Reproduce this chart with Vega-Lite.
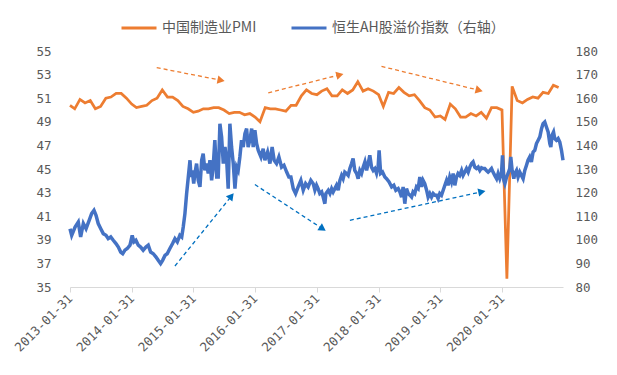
{
  "$schema": "https://vega.github.io/schema/vega-lite/v6.json",
  "width": 493,
  "height": 236,
  "autosize": {"type": "none"},
  "padding": {"left": 70, "top": 51, "right": 54, "bottom": 88},
  "background": "white",
  "config": {
    "view": {"stroke": null},
    "axis": {"labelColor": "#595959", "labelFont": "DejaVu Sans Mono", "labelFontSize": 12.5, "grid": false, "title": null, "labelOverlap": false}
  },
  "datasets": {
    "pmi": [
      {"d":"2013-01-31","v":50.4},{"d":"2013-02-28","v":50.1},{"d":"2013-03-31","v":50.9},{"d":"2013-04-30","v":50.6},{"d":"2013-05-31","v":50.8},{"d":"2013-06-30","v":50.1},{"d":"2013-07-31","v":50.3},{"d":"2013-08-31","v":51.0},{"d":"2013-09-30","v":51.1},{"d":"2013-10-31","v":51.4},{"d":"2013-11-30","v":51.4},{"d":"2013-12-31","v":51.0},
      {"d":"2014-01-31","v":50.5},{"d":"2014-02-28","v":50.2},{"d":"2014-03-31","v":50.3},{"d":"2014-04-30","v":50.4},{"d":"2014-05-31","v":50.8},{"d":"2014-06-30","v":51.0},{"d":"2014-07-31","v":51.7},{"d":"2014-08-31","v":51.1},{"d":"2014-09-30","v":51.1},{"d":"2014-10-31","v":50.8},{"d":"2014-11-30","v":50.3},{"d":"2014-12-31","v":50.1},
      {"d":"2015-01-31","v":49.8},{"d":"2015-02-28","v":49.9},{"d":"2015-03-31","v":50.1},{"d":"2015-04-30","v":50.1},{"d":"2015-05-31","v":50.2},{"d":"2015-06-30","v":50.2},{"d":"2015-07-31","v":50.0},{"d":"2015-08-31","v":49.7},{"d":"2015-09-30","v":49.8},{"d":"2015-10-31","v":49.8},{"d":"2015-11-30","v":49.6},{"d":"2015-12-31","v":49.7},
      {"d":"2016-01-31","v":49.4},{"d":"2016-02-29","v":49.0},{"d":"2016-03-31","v":50.2},{"d":"2016-04-30","v":50.1},{"d":"2016-05-31","v":50.1},{"d":"2016-06-30","v":50.0},{"d":"2016-07-31","v":49.9},{"d":"2016-08-31","v":50.4},{"d":"2016-09-30","v":50.4},{"d":"2016-10-31","v":51.2},{"d":"2016-11-30","v":51.7},{"d":"2016-12-31","v":51.4},
      {"d":"2017-01-31","v":51.3},{"d":"2017-02-28","v":51.6},{"d":"2017-03-31","v":51.8},{"d":"2017-04-30","v":51.2},{"d":"2017-05-31","v":51.2},{"d":"2017-06-30","v":51.7},{"d":"2017-07-31","v":51.4},{"d":"2017-08-31","v":51.7},{"d":"2017-09-30","v":52.4},{"d":"2017-10-31","v":51.6},{"d":"2017-11-30","v":51.8},{"d":"2017-12-31","v":51.6},
      {"d":"2018-01-31","v":51.3},{"d":"2018-02-28","v":50.3},{"d":"2018-03-31","v":51.5},{"d":"2018-04-30","v":51.4},{"d":"2018-05-31","v":51.9},{"d":"2018-06-30","v":51.5},{"d":"2018-07-31","v":51.2},{"d":"2018-08-31","v":51.3},{"d":"2018-09-30","v":50.8},{"d":"2018-10-31","v":50.2},{"d":"2018-11-30","v":50.0},{"d":"2018-12-31","v":49.4},
      {"d":"2019-01-31","v":49.5},{"d":"2019-02-28","v":49.2},{"d":"2019-03-31","v":50.5},{"d":"2019-04-30","v":50.1},{"d":"2019-05-31","v":49.4},{"d":"2019-06-30","v":49.4},{"d":"2019-07-31","v":49.7},{"d":"2019-08-31","v":49.5},{"d":"2019-09-30","v":49.8},{"d":"2019-10-31","v":49.3},{"d":"2019-11-30","v":50.2},{"d":"2019-12-31","v":50.2},
      {"d":"2020-01-31","v":50.0},{"d":"2020-02-29","v":35.7},{"d":"2020-03-31","v":52.0},{"d":"2020-04-30","v":50.8},{"d":"2020-05-31","v":50.6},{"d":"2020-06-30","v":50.9},{"d":"2020-07-31","v":51.1},{"d":"2020-08-31","v":51.0},{"d":"2020-09-30","v":51.5},{"d":"2020-10-31","v":51.4},{"d":"2020-11-30","v":52.1},{"d":"2020-12-31","v":51.9}
    ],
    "ah": [
      {"d":"2013-01-31","v":104.7},{"d":"2013-02-10","v":101.9},{"d":"2013-03-02","v":105.4},{"d":"2013-03-21","v":107.5},{"d":"2013-04-04","v":101.2},{"d":"2013-04-20","v":106.9},{"d":"2013-05-06","v":104.7},{"d":"2013-05-25","v":108.3},{"d":"2013-06-08","v":111.1},{"d":"2013-06-22","v":112.5},{"d":"2013-07-04","v":110.4},{"d":"2013-07-17","v":106.9},{"d":"2013-08-01","v":104.7},{"d":"2013-08-16","v":102.6},{"d":"2013-09-01","v":101.9},{"d":"2013-09-14","v":100.5},{"d":"2013-09-29","v":101.2},{"d":"2013-10-14","v":99.8},{"d":"2013-10-30","v":98.4},{"d":"2013-11-13","v":96.9},{"d":"2013-11-27","v":94.8},{"d":"2013-12-09","v":94.1},{"d":"2013-12-22","v":95.6},
      {"d":"2014-01-05","v":96.3},{"d":"2014-01-21","v":97.7},{"d":"2014-02-03","v":101.9},{"d":"2014-02-13","v":99.1},{"d":"2014-02-25","v":99.8},{"d":"2014-03-11","v":97.7},{"d":"2014-03-25","v":96.9},{"d":"2014-04-09","v":95.6},{"d":"2014-04-25","v":96.9},{"d":"2014-05-09","v":97.7},{"d":"2014-05-23","v":94.8},{"d":"2014-06-08","v":94.1},{"d":"2014-06-24","v":92.7},{"d":"2014-07-07","v":91.3},{"d":"2014-07-21","v":89.9},{"d":"2014-08-02","v":91.3},{"d":"2014-08-16","v":93.4},{"d":"2014-08-29","v":94.1},{"d":"2014-09-14","v":96.3},{"d":"2014-09-30","v":98.4},{"d":"2014-10-14","v":100.5},{"d":"2014-10-28","v":99.1},{"d":"2014-11-12","v":101.9},{"d":"2014-11-23","v":101.2},{"d":"2014-12-02","v":105.4},{"d":"2014-12-12","v":111.1},{"d":"2014-12-22","v":119.6},
      {"d":"2015-01-01","v":126.6},{"d":"2015-01-11","v":133.7},{"d":"2015-01-17","v":126.6},{"d":"2015-01-24","v":129.4},{"d":"2015-02-02","v":123.8},{"d":"2015-02-09","v":128.1},{"d":"2015-02-19","v":132.3},{"d":"2015-03-01","v":125.2},{"d":"2015-03-11","v":122.4},{"d":"2015-03-21","v":133.7},{"d":"2015-03-30","v":136.5},{"d":"2015-04-09","v":129.4},{"d":"2015-04-19","v":132.3},{"d":"2015-04-29","v":128.1},{"d":"2015-05-09","v":133.7},{"d":"2015-05-19","v":125.2},{"d":"2015-05-28","v":130.8},{"d":"2015-06-07","v":142.2},{"d":"2015-06-18","v":126.6},{"d":"2015-06-27","v":126.6},{"d":"2015-07-07","v":149.2},{"d":"2015-07-17","v":143.6},{"d":"2015-07-27","v":132.3},{"d":"2015-08-06","v":139.3},{"d":"2015-08-16","v":133.7},{"d":"2015-08-25","v":121.7},{"d":"2015-09-04","v":149.2},{"d":"2015-09-14","v":139.3},{"d":"2015-09-24","v":132.3},{"d":"2015-10-04","v":121.7},{"d":"2015-10-14","v":130.8},{"d":"2015-10-23","v":129.4},{"d":"2015-11-02","v":135.1},{"d":"2015-11-12","v":142.2},{"d":"2015-11-22","v":139.3},{"d":"2015-12-02","v":145.0},{"d":"2015-12-12","v":147.1},{"d":"2015-12-21","v":139.3},{"d":"2015-12-31","v":142.2},
      {"d":"2016-01-11","v":147.1},{"d":"2016-01-20","v":139.3},{"d":"2016-01-30","v":146.4},{"d":"2016-02-09","v":140.8},{"d":"2016-02-19","v":137.9},{"d":"2016-03-06","v":135.1},{"d":"2016-03-19","v":138.6},{"d":"2016-03-29","v":133.7},{"d":"2016-04-14","v":137.2},{"d":"2016-04-28","v":132.3},{"d":"2016-05-11","v":139.3},{"d":"2016-05-23","v":133.7},{"d":"2016-06-06","v":132.3},{"d":"2016-06-20","v":135.1},{"d":"2016-07-06","v":130.8},{"d":"2016-07-20","v":131.6},{"d":"2016-08-05","v":128.7},{"d":"2016-08-18","v":126.6},{"d":"2016-08-30","v":126.6},{"d":"2016-09-13","v":121.7},{"d":"2016-09-27","v":119.6},{"d":"2016-10-12","v":122.4},{"d":"2016-10-28","v":125.2},{"d":"2016-11-11","v":121.0},{"d":"2016-11-25","v":123.8},{"d":"2016-12-10","v":122.4},{"d":"2016-12-26","v":125.2},
      {"d":"2017-01-09","v":123.8},{"d":"2017-01-19","v":121.0},{"d":"2017-01-29","v":123.1},{"d":"2017-02-07","v":121.7},{"d":"2017-02-17","v":119.6},{"d":"2017-02-28","v":120.3},{"d":"2017-03-09","v":118.1},{"d":"2017-03-19","v":115.3},{"d":"2017-03-25","v":119.6},{"d":"2017-04-08","v":121.0},{"d":"2017-04-18","v":119.6},{"d":"2017-04-28","v":121.7},{"d":"2017-05-07","v":120.3},{"d":"2017-05-17","v":121.7},{"d":"2017-05-27","v":123.1},{"d":"2017-06-06","v":121.0},{"d":"2017-06-16","v":125.2},{"d":"2017-06-26","v":127.3},{"d":"2017-07-05","v":125.9},{"d":"2017-07-15","v":128.7},{"d":"2017-07-25","v":128.1},{"d":"2017-08-04","v":127.3},{"d":"2017-08-14","v":130.2},{"d":"2017-08-24","v":132.3},{"d":"2017-09-02","v":134.4},{"d":"2017-09-12","v":129.4},{"d":"2017-09-23","v":128.1},{"d":"2017-10-02","v":125.9},{"d":"2017-10-12","v":129.4},{"d":"2017-10-22","v":128.1},{"d":"2017-11-01","v":130.8},{"d":"2017-11-11","v":133.0},{"d":"2017-11-21","v":129.4},{"d":"2017-11-30","v":132.3},{"d":"2017-12-10","v":135.8},{"d":"2017-12-20","v":130.8},{"d":"2017-12-30","v":129.4},
      {"d":"2018-01-09","v":130.2},{"d":"2018-01-19","v":128.1},{"d":"2018-01-28","v":130.8},{"d":"2018-02-03","v":137.9},{"d":"2018-02-12","v":128.1},{"d":"2018-02-23","v":128.7},{"d":"2018-03-09","v":126.6},{"d":"2018-03-19","v":125.9},{"d":"2018-04-03","v":124.5},{"d":"2018-04-18","v":122.4},{"d":"2018-05-01","v":123.1},{"d":"2018-05-13","v":121.0},{"d":"2018-05-27","v":121.7},{"d":"2018-06-06","v":120.3},{"d":"2018-06-16","v":118.1},{"d":"2018-06-25","v":122.4},{"d":"2018-07-05","v":115.3},{"d":"2018-07-15","v":121.7},{"d":"2018-07-25","v":119.6},{"d":"2018-08-04","v":118.9},{"d":"2018-08-14","v":118.1},{"d":"2018-08-23","v":120.3},{"d":"2018-09-02","v":119.6},{"d":"2018-09-12","v":122.4},{"d":"2018-09-22","v":121.7},{"d":"2018-10-02","v":126.6},{"d":"2018-10-12","v":122.4},{"d":"2018-10-21","v":125.2},{"d":"2018-10-31","v":123.8},{"d":"2018-11-11","v":121.0},{"d":"2018-11-20","v":118.1},{"d":"2018-11-30","v":119.6},{"d":"2018-12-10","v":118.1},{"d":"2018-12-20","v":119.6},{"d":"2018-12-30","v":118.9},
      {"d":"2019-01-09","v":118.9},{"d":"2019-01-18","v":117.5},{"d":"2019-01-28","v":119.6},{"d":"2019-02-07","v":118.9},{"d":"2019-02-17","v":121.0},{"d":"2019-02-27","v":123.1},{"d":"2019-03-09","v":125.2},{"d":"2019-03-18","v":123.1},{"d":"2019-03-28","v":126.6},{"d":"2019-04-07","v":124.5},{"d":"2019-04-17","v":128.1},{"d":"2019-04-27","v":123.1},{"d":"2019-05-07","v":126.6},{"d":"2019-05-16","v":128.1},{"d":"2019-05-26","v":127.3},{"d":"2019-06-06","v":129.4},{"d":"2019-06-15","v":127.3},{"d":"2019-06-25","v":128.7},{"d":"2019-07-05","v":130.2},{"d":"2019-07-15","v":128.7},{"d":"2019-07-25","v":130.8},{"d":"2019-08-04","v":132.3},{"d":"2019-08-13","v":133.0},{"d":"2019-08-23","v":130.8},{"d":"2019-09-02","v":130.2},{"d":"2019-09-12","v":130.8},{"d":"2019-09-22","v":129.4},{"d":"2019-10-02","v":130.5},{"d":"2019-10-11","v":130.2},{"d":"2019-10-21","v":130.2},{"d":"2019-10-31","v":129.4},{"d":"2019-11-10","v":128.7},{"d":"2019-11-20","v":129.4},{"d":"2019-11-30","v":130.2},{"d":"2019-12-09","v":128.7},{"d":"2019-12-19","v":127.3},{"d":"2019-12-30","v":125.9},
      {"d":"2020-01-08","v":128.1},{"d":"2020-01-18","v":125.9},{"d":"2020-01-28","v":128.1},{"d":"2020-02-03","v":135.8},{"d":"2020-02-11","v":125.2},{"d":"2020-02-17","v":123.8},{"d":"2020-02-27","v":126.6},{"d":"2020-03-07","v":128.1},{"d":"2020-03-17","v":130.2},{"d":"2020-03-23","v":135.1},{"d":"2020-03-31","v":129.4},{"d":"2020-04-10","v":125.9},{"d":"2020-04-16","v":128.1},{"d":"2020-04-26","v":129.4},{"d":"2020-05-05","v":126.6},{"d":"2020-05-15","v":128.7},{"d":"2020-05-25","v":127.3},{"d":"2020-06-04","v":125.9},{"d":"2020-06-14","v":129.4},{"d":"2020-06-24","v":131.6},{"d":"2020-07-03","v":133.7},{"d":"2020-07-13","v":135.1},{"d":"2020-07-23","v":133.0},{"d":"2020-08-02","v":137.2},{"d":"2020-08-12","v":137.9},{"d":"2020-08-22","v":140.8},{"d":"2020-09-01","v":142.2},{"d":"2020-09-11","v":143.6},{"d":"2020-09-21","v":147.1},{"d":"2020-09-30","v":149.2},{"d":"2020-10-10","v":149.9},{"d":"2020-10-20","v":147.8},{"d":"2020-10-30","v":145.7},{"d":"2020-11-09","v":140.8},{"d":"2020-11-15","v":139.3},{"d":"2020-11-22","v":144.3},{"d":"2020-12-01","v":145.7},{"d":"2020-12-08","v":142.9},{"d":"2020-12-18","v":142.2},{"d":"2020-12-28","v":142.9},
      {"d":"2021-01-07","v":141.4},{"d":"2021-01-17","v":137.9},{"d":"2021-01-26","v":133.7}
    ],
    "arrows": [
      {"id":"O1","g":"O","d1":"2014-06-28","v1":53.59,"d2":"2015-07-14","v2":52.52},
      {"id":"O2","g":"O","d1":"2016-04-18","v1":51.46,"d2":"2017-06-16","v2":52.98},
      {"id":"O3","g":"O","d1":"2018-02-17","v1":53.70,"d2":"2019-09-18","v2":51.67},
      {"id":"B1","g":"B","d1":"2014-10-14","v1":36.78,"d2":"2015-09-13","v2":42.70},
      {"id":"B2","g":"B","d1":"2016-01-30","v1":43.68,"d2":"2017-03-06","v2":39.93},
      {"id":"B3","g":"B","d1":"2017-08-14","v1":40.65,"d2":"2019-10-04","v2":43.07}
    ]
  },
  "layer": [
    {
      "data": {"name": "pmi"},
      "mark": {"type": "line", "strokeWidth": 2.75},
      "encoding": {
        "x": {
          "field": "d", "type": "temporal",
          "scale": {"type": "utc", "domain": [{"year": 2013, "month": 1, "date": 31, "utc": true}, {"year": 2021, "month": 1, "date": 26, "utc": true}]},
          "axis": {
            "format": "%Y-%m-%d",
            "values": [
              {"year": 2013, "month": 1, "date": 31, "utc": true},
              {"year": 2014, "month": 1, "date": 31, "utc": true},
              {"year": 2015, "month": 1, "date": 31, "utc": true},
              {"year": 2016, "month": 1, "date": 31, "utc": true},
              {"year": 2017, "month": 1, "date": 31, "utc": true},
              {"year": 2018, "month": 1, "date": 31, "utc": true},
              {"year": 2019, "month": 1, "date": 31, "utc": true},
              {"year": 2020, "month": 1, "date": 31, "utc": true}
            ],
            "labelAngle": -45, "labelAlign": "right", "labelBaseline": "middle",
            "labelPadding": 4, "tickSize": 5, "domainColor": "#D9D9D9", "tickColor": "#D9D9D9",
            "labelFlush": false, "labelOverlap": false, "labelBound": false
          }
        },
        "y": {
          "field": "v", "type": "quantitative",
          "scale": {"domain": [35, 55], "nice": false, "zero": false},
          "axis": {"orient": "left", "values": [35, 37, 39, 41, 43, 45, 47, 49, 51, 53, 55], "domain": false, "ticks": false, "labelPadding": 19, "labelOverlap": false}
        },
        "color": {
          "datum": "中国制造业PMI",
          "scale": {"domain": ["中国制造业PMI", "恒生AH股溢价指数（右轴）"], "range": ["#ED7D31", "#4472C4"]},
          "legend": {
            "orient": "none", "legendX": 50, "legendY": -42, "direction": "horizontal", "title": null,
            "symbolType": "stroke", "symbolSize": 1225, "symbolStrokeWidth": 3,
            "labelFont": "Noto Sans CJK SC", "labelFontSize": 14, "labelColor": "#595959",
            "labelOffset": 4, "columnPadding": 28, "padding": 0, "labelLimit": 400
          }
        }
      }
    },
    {
      "data": {"name": "arrows"},
      "transform": [{"filter": "datum.g === 'O'"}],
      "mark": {"type": "rule", "color": "#ED7D31", "strokeDash": [4, 3], "strokeWidth": 1.3},
      "encoding": {
        "x": {"field": "d1", "type": "temporal"},
        "x2": {"field": "d2"},
        "y": {"field": "v1", "type": "quantitative", "scale": {"domain": [35, 55], "nice": false, "zero": false}, "axis": null},
        "y2": {"field": "v2"}
      }
    },
    {
      "data": {"name": "arrows"},
      "transform": [{"filter": "datum.g === 'B'"}],
      "mark": {"type": "rule", "color": "#0070C0", "strokeDash": [4, 3], "strokeWidth": 1.3},
      "encoding": {
        "x": {"field": "d1", "type": "temporal"},
        "x2": {"field": "d2"},
        "y": {"field": "v1", "type": "quantitative", "scale": {"domain": [35, 55], "nice": false, "zero": false}, "axis": null},
        "y2": {"field": "v2"}
      }
    },
    {
      "data": {"name": "arrows"},
      "transform": [{"filter": "datum.id === 'O1'"}],
      "mark": {"type": "point", "shape": "triangle-right", "filled": true, "opacity": 1, "size": 70, "angle": 11, "color": "#ED7D31"},
      "encoding": {"x": {"field": "d2", "type": "temporal"}, "y": {"field": "v2", "type": "quantitative", "scale": {"domain": [35, 55], "nice": false, "zero": false}, "axis": null}}
    },
    {
      "data": {"name": "arrows"},
      "transform": [{"filter": "datum.id === 'O2'"}],
      "mark": {"type": "point", "shape": "triangle-right", "filled": true, "opacity": 1, "size": 70, "angle": -14, "color": "#ED7D31"},
      "encoding": {"x": {"field": "d2", "type": "temporal"}, "y": {"field": "v2", "type": "quantitative", "scale": {"domain": [35, 55], "nice": false, "zero": false}, "axis": null}}
    },
    {
      "data": {"name": "arrows"},
      "transform": [{"filter": "datum.id === 'O3'"}],
      "mark": {"type": "point", "shape": "triangle-right", "filled": true, "opacity": 1, "size": 70, "angle": 14, "color": "#ED7D31"},
      "encoding": {"x": {"field": "d2", "type": "temporal"}, "y": {"field": "v2", "type": "quantitative", "scale": {"domain": [35, 55], "nice": false, "zero": false}, "axis": null}}
    },
    {
      "data": {"name": "arrows"},
      "transform": [{"filter": "datum.id === 'B1'"}],
      "mark": {"type": "point", "shape": "triangle-right", "filled": true, "opacity": 1, "size": 70, "angle": -51, "color": "#0070C0"},
      "encoding": {"x": {"field": "d2", "type": "temporal"}, "y": {"field": "v2", "type": "quantitative", "scale": {"domain": [35, 55], "nice": false, "zero": false}, "axis": null}}
    },
    {
      "data": {"name": "arrows"},
      "transform": [{"filter": "datum.id === 'B2'"}],
      "mark": {"type": "point", "shape": "triangle-right", "filled": true, "opacity": 1, "size": 70, "angle": 33, "color": "#0070C0"},
      "encoding": {"x": {"field": "d2", "type": "temporal"}, "y": {"field": "v2", "type": "quantitative", "scale": {"domain": [35, 55], "nice": false, "zero": false}, "axis": null}}
    },
    {
      "data": {"name": "arrows"},
      "transform": [{"filter": "datum.id === 'B3'"}],
      "mark": {"type": "point", "shape": "triangle-right", "filled": true, "opacity": 1, "size": 70, "angle": -12, "color": "#0070C0"},
      "encoding": {"x": {"field": "d2", "type": "temporal"}, "y": {"field": "v2", "type": "quantitative", "scale": {"domain": [35, 55], "nice": false, "zero": false}, "axis": null}}
    },
    {
      "data": {"name": "ah"},
      "mark": {"type": "line", "strokeWidth": 3.5},
      "encoding": {
        "x": {"field": "d", "type": "temporal"},
        "y": {
          "field": "v", "type": "quantitative",
          "scale": {"domain": [80, 180], "nice": false, "zero": false},
          "axis": {"orient": "right", "values": [80, 90, 100, 110, 120, 130, 140, 150, 160, 170, 180], "domain": false, "ticks": false, "labelPadding": 12, "labelOverlap": false}
        },
        "color": {"datum": "恒生AH股溢价指数（右轴）"}
      }
    }
  ],
  "resolve": {"scale": {"y": "independent"}}
}
